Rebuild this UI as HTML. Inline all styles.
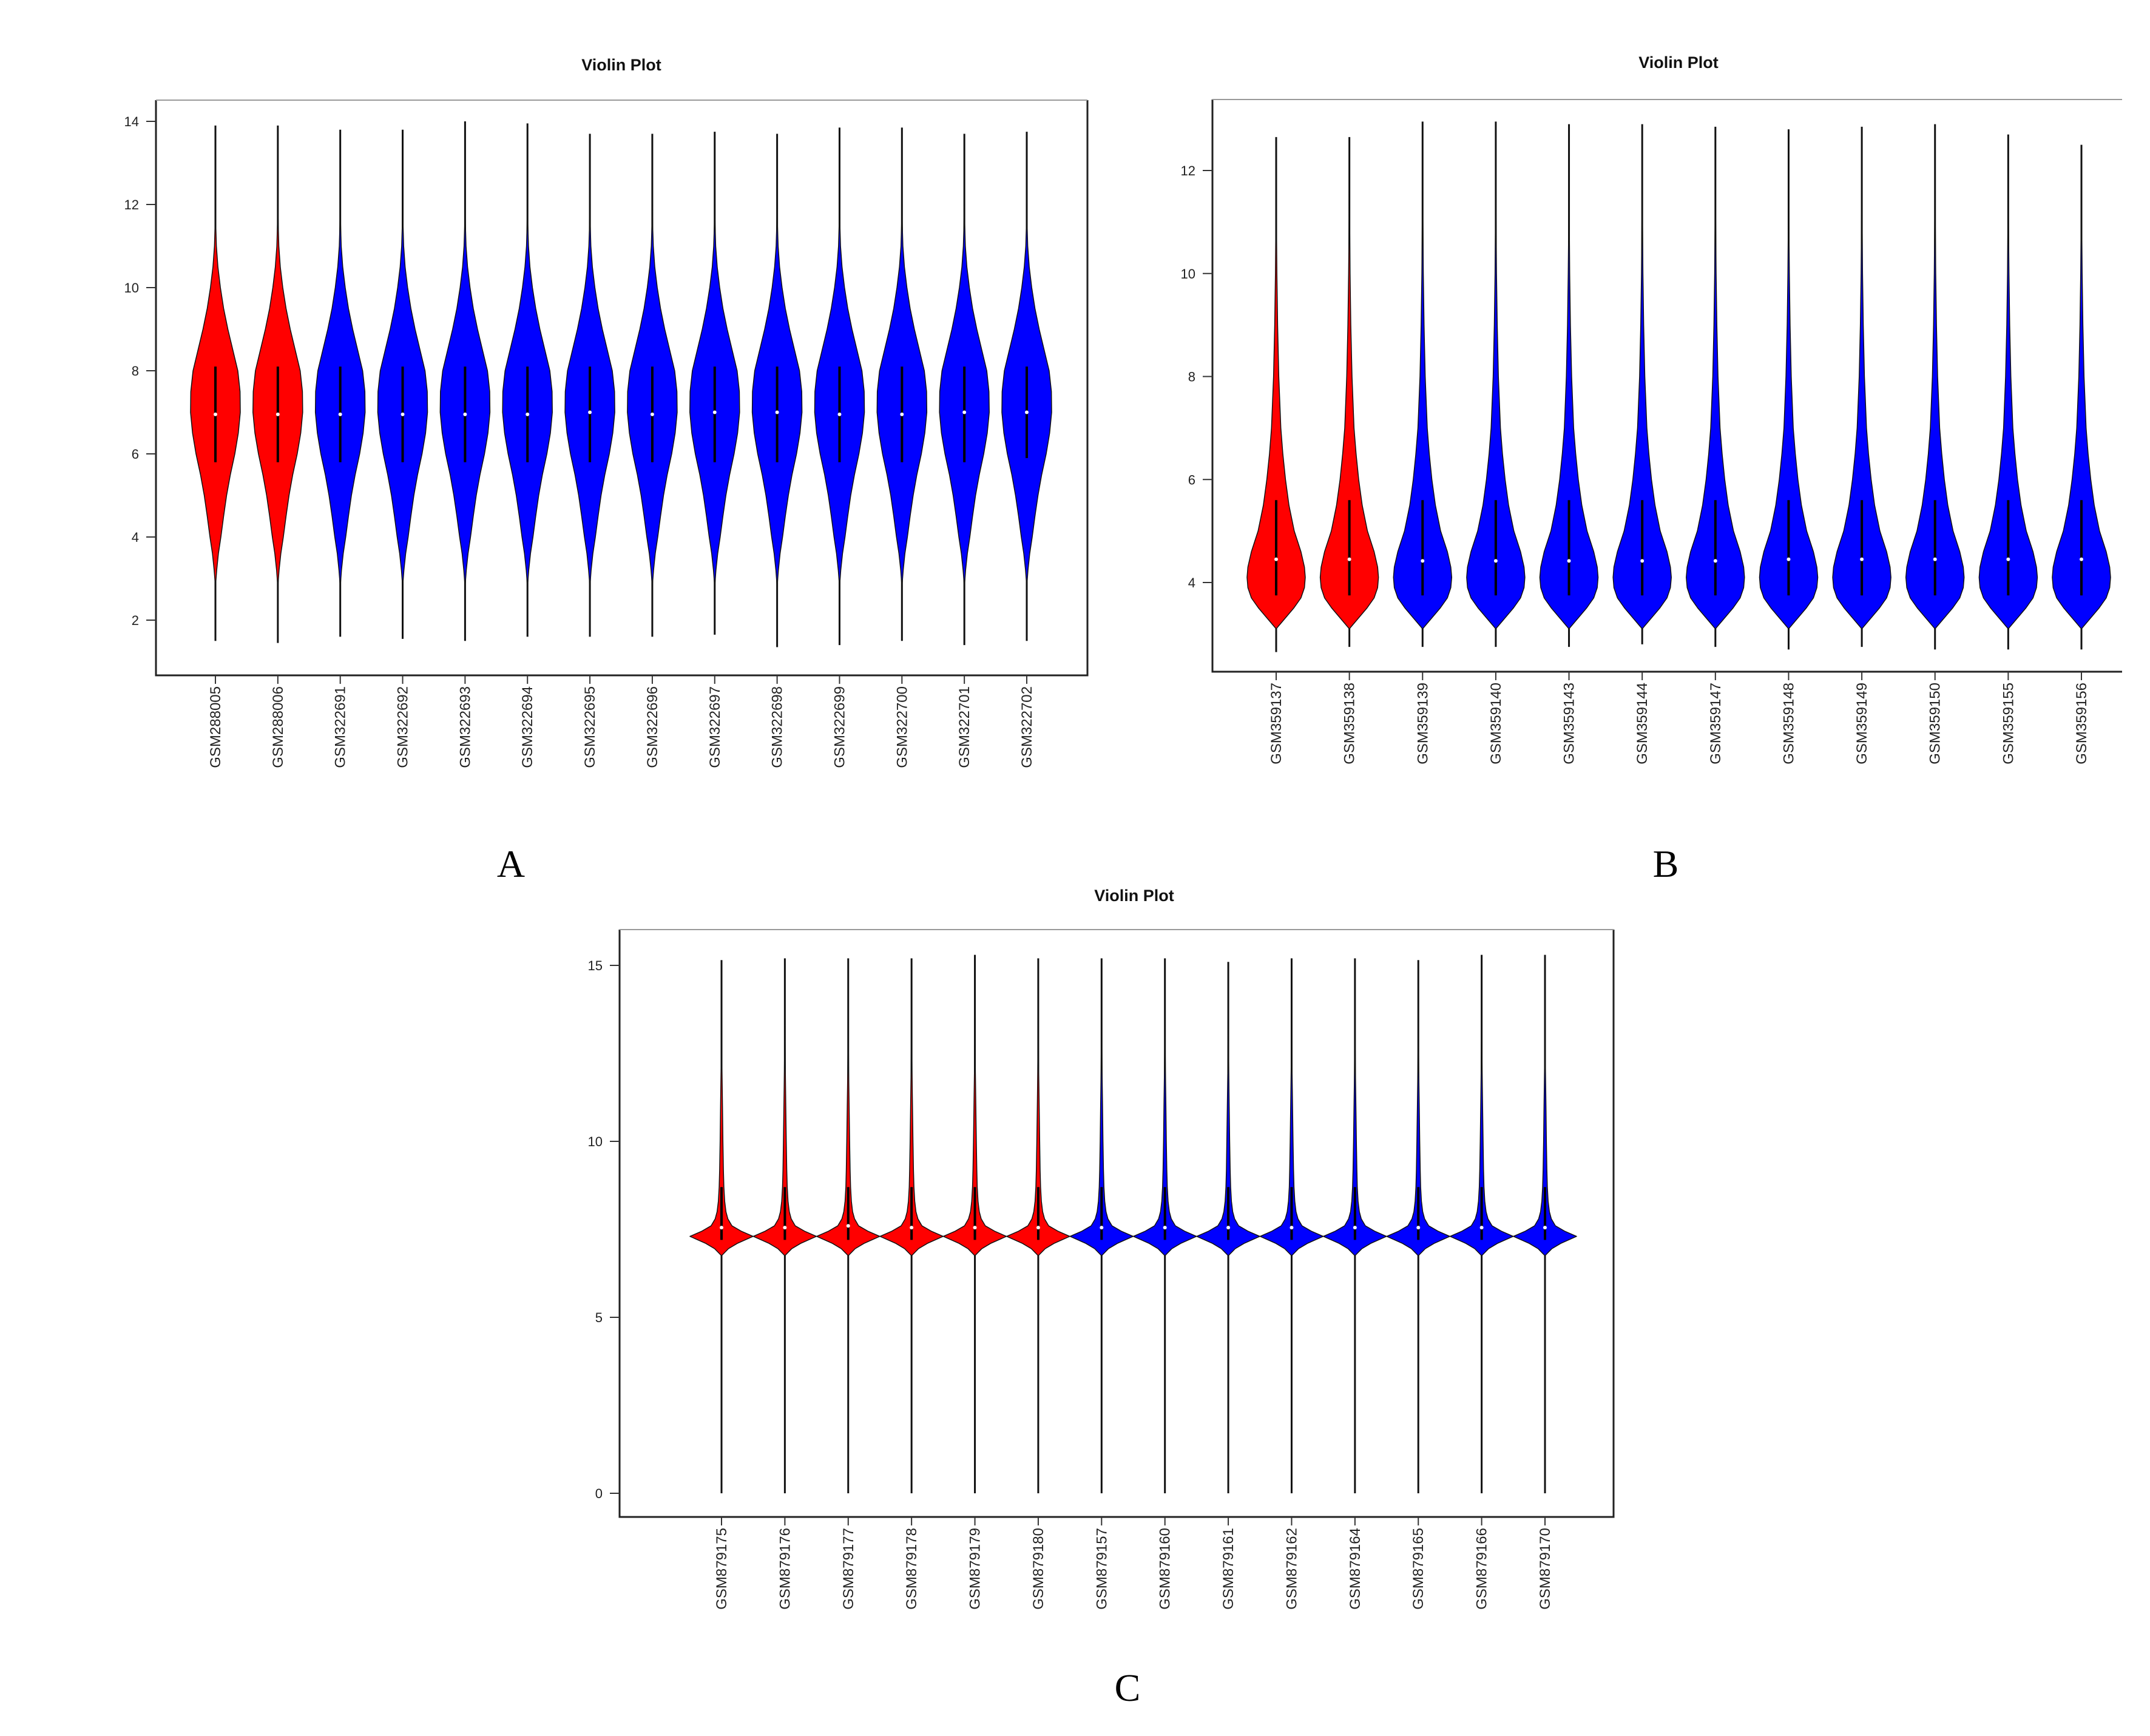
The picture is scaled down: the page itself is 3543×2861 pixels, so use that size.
<!DOCTYPE html>
<html><head><meta charset="utf-8">
<style>
html,body{margin:0;padding:0;background:#fff;}
svg{display:block;}
text{font-family:"Liberation Sans",sans-serif;}
</style></head>
<body>
<svg id="fig" width="3543" height="2861" viewBox="0 0 3543 2861" xmlns="http://www.w3.org/2000/svg">
<rect width="3543" height="2861" fill="#fff"/>
<g id="panelA"></g>
<g id="panelB"></g>
<g id="panelC"></g>
<text x="842" y="1445" text-anchor="middle" style="font-family:'Liberation Serif',serif;font-size:64px">A</text>
<text x="2745" y="1445" text-anchor="middle" style="font-family:'Liberation Serif',serif;font-size:64px">B</text>
<text x="1858" y="2803" text-anchor="middle" style="font-family:'Liberation Serif',serif;font-size:64px">C</text>
</svg>
<script>
// ---------- Panel A data ----------
const catsA = ["GSM288005","GSM288006","GSM322691","GSM322692","GSM322693","GSM322694","GSM322695","GSM322696","GSM322697","GSM322698","GSM322699","GSM322700","GSM322701","GSM322702"];
const groupA = ["ctrl","ctrl","case","case","case","case","case","case","case","case","case","case","case","case"];
const minA = [1.5,1.45,1.6,1.55,1.5,1.6,1.6,1.6,1.65,1.35,1.4,1.5,1.4,1.5];
const maxA = [13.9,13.9,13.8,13.8,14.0,13.95,13.7,13.7,13.75,13.7,13.85,13.85,13.7,13.75];
const medA = [6.95,6.95,6.95,6.95,6.95,6.95,7.0,6.95,7.0,7.0,6.95,6.95,7.0,7.0];
const q1A = [5.8,5.8,5.8,5.8,5.8,5.8,5.8,5.8,5.8,5.8,5.8,5.8,5.8,5.9];
const q3A = [8.1,8.1,8.1,8.1,8.1,8.1,8.1,8.1,8.1,8.1,8.1,8.1,8.1,8.1];
const densYA = [2.8,3.2,3.6,4.0,4.5,5.0,5.5,6.0,6.5,7.0,7.5,8.0,8.5,9.0,9.5,10.0,10.5,11.0,11.5,12.0];
const densWA = [0,0.05,0.12,0.22,0.33,0.45,0.6,0.78,0.92,1.0,0.99,0.9,0.7,0.5,0.33,0.2,0.1,0.04,0.015,0];
const ticksA = [2,4,6,8,10,12,14];

// ---------- Panel B data ----------
const catsB = ["GSM359137","GSM359138","GSM359139","GSM359140","GSM359143","GSM359144","GSM359147","GSM359148","GSM359149","GSM359150","GSM359155","GSM359156"];
const groupB = ["ctrl","ctrl","case","case","case","case","case","case","case","case","case","case"];
const minB = [2.65,2.75,2.75,2.75,2.75,2.8,2.75,2.7,2.75,2.7,2.7,2.7];
const maxB = [12.65,12.65,12.95,12.95,12.9,12.9,12.85,12.8,12.85,12.9,12.7,12.5];
const medB = [4.45,4.45,4.42,4.42,4.42,4.42,4.42,4.45,4.45,4.45,4.45,4.45];
const q1B = [3.75,3.75,3.75,3.75,3.75,3.75,3.75,3.75,3.75,3.75,3.75,3.75];
const q3B = [5.6,5.6,5.6,5.6,5.6,5.6,5.6,5.6,5.6,5.6,5.6,5.6];
const densYB = [3.1,3.3,3.5,3.7,3.9,4.1,4.3,4.6,5.0,5.5,6.0,6.5,7.0,8.0,9.0,10.0,11.0,11.6];
const densWB = [0,0.3,0.6,0.85,0.97,1.0,0.97,0.85,0.62,0.44,0.32,0.23,0.16,0.09,0.05,0.025,0.01,0];
const ticksB = [4,6,8,10,12];

// ---------- Panel C data ----------
const catsC = ["GSM879175","GSM879176","GSM879177","GSM879178","GSM879179","GSM879180","GSM879157","GSM879160","GSM879161","GSM879162","GSM879164","GSM879165","GSM879166","GSM879170"];
const groupC = ["ctrl","ctrl","ctrl","ctrl","ctrl","ctrl","case","case","case","case","case","case","case","case"];
const minC = [0,0,0,0,0,0,0,0,0,0,0,0,0,0];
const maxC = [15.15,15.2,15.2,15.2,15.3,15.2,15.2,15.2,15.1,15.2,15.2,15.15,15.3,15.3];
const medC = [7.55,7.55,7.6,7.55,7.55,7.55,7.55,7.55,7.55,7.55,7.55,7.55,7.55,7.55];
const q1C = [7.2,7.2,7.2,7.2,7.2,7.2,7.2,7.2,7.2,7.2,7.2,7.2,7.2,7.2];
const q3C = [8.7,8.7,8.7,8.7,8.7,8.7,8.7,8.7,8.7,8.7,8.7,8.7,8.7,8.7];
const densYC = [6.75,6.95,7.1,7.3,7.45,7.6,7.8,8.0,8.3,8.7,9.2,10,11,12,13.5];
const densWC = [0,0.22,0.5,1.0,0.62,0.33,0.2,0.14,0.1,0.075,0.06,0.045,0.03,0.015,0];
const ticksC = [0,5,10,15];

const NS = "http://www.w3.org/2000/svg";
function mk(parent, tag, attrs){
  const e = document.createElementNS(NS, tag);
  for (const k in attrs) e.setAttribute(k, attrs[k]);
  parent.appendChild(e);
  return e;
}

function drawPanel(cfg){
  const g = document.getElementById(cfg.id);
  const yScale = v => cfg.y0px + (v - cfg.y0v) * (cfg.y1px - cfg.y0px) / (cfg.y1v - cfg.y0v);
  const n = cfg.cats.length;
  const xScale = i => cfg.xFirst + i * (cfg.xLast - cfg.xFirst) / (n - 1);
  const t = mk(g, "text", {x: cfg.titleX, y: cfg.titleY, "text-anchor":"middle", "font-size":27, "font-weight":"bold", fill:"#111"});
  t.textContent = "Violin Plot";
  
  
  const fr = mk(g, "path", {d: cfg.frame, fill:"none", stroke:"#222", "stroke-width":3});
  
  
  const top = mk(g, "line", {x1: cfg.left, x2: cfg.right, y1: cfg.top, y2: cfg.top, stroke:"#999", "stroke-width":2});
  
  
  cfg.ticks.forEach(v => {
    const y = yScale(v);
    const tk = mk(g, "line", {x1: cfg.left - 16, x2: cfg.left, y1: y, y2: y, stroke:"#333", "stroke-width":2});
    
    
    const tl = mk(g, "text", {x: cfg.left - 28, y: y + 8, "text-anchor":"end", "font-size":22, fill:"#222"});
    tl.textContent = String(v);
    
    
  });
  for (let i = 0; i < n; i++){
    const cx = xScale(i);
    const col = cfg.group[i] === "ctrl" ? "#ff0000" : "#0000ff";
    const vg = mk(g, "g", {});
    
    
    const wl = mk(vg, "line", {x1: cx, x2: cx, y1: yScale(cfg.min[i]), y2: yScale(cfg.max[i]), stroke:"#111", "stroke-width":3});
    
    
    let right = [], left = [];
    for (let k = 0; k < cfg.dY.length; k++){
      const y = yScale(cfg.dY[k]);
      const w = cfg.dW[k] * cfg.halfW;
      right.push((cx + w).toFixed(1) + "," + y.toFixed(1));
      left.unshift((cx - w).toFixed(1) + "," + y.toFixed(1));
    }
    const body = mk(vg, "polygon", {points: right.concat(left).join(" "), fill: col, stroke:"#111", "stroke-width":1.5, "stroke-linejoin":"round"});
    
    
    const bx = mk(vg, "line", {x1: cx, x2: cx, y1: yScale(cfg.q1[i]), y2: yScale(cfg.q3[i]), stroke:"#000", "stroke-width":4});
    
    
    const md = mk(vg, "circle", {cx: cx, cy: yScale(cfg.med[i]), r: 3, fill:"#fff"});
    
    
    const xt = mk(g, "line", {x1: cx, x2: cx, y1: cfg.bottom, y2: cfg.bottom + 14, stroke:"#333", "stroke-width":2});
    
    
    const lx = cx + 8, ly = cfg.bottom + 18;
    const xl = mk(g, "text", {x: lx, y: ly, "text-anchor":"end", "font-size":24, fill:"#222", transform:"rotate(-90 " + lx + " " + ly + ")"});
    xl.textContent = cfg.cats[i];
    
    
  }
}

drawPanel({id:"panelA", cats:catsA, group:groupA, min:minA, max:maxA, med:medA, q1:q1A, q3:q3A, dY:densYA, dW:densWA, ticks:ticksA,
  y0v:14, y0px:200, y1v:2, y1px:1022, xFirst:355, xLast:1692, halfW:41,
  left:257, right:1792, top:165, bottom:1113, titleX:1024, titleY:116,
  frame:"M257,165 L257,1113 L1792,1113 L1792,165"});
drawPanel({id:"panelB", cats:catsB, group:groupB, min:minB, max:maxB, med:medB, q1:q1B, q3:q3B, dY:densYB, dW:densWB, ticks:ticksB,
  y0v:12, y0px:281, y1v:4, y1px:960, xFirst:2103, xLast:3430, halfW:48,
  left:1998, right:3497, top:164, bottom:1107, titleX:2766, titleY:112,
  frame:"M1998,164 L1998,1107 L3497,1107"});
drawPanel({id:"panelC", cats:catsC, group:groupC, min:minC, max:maxC, med:medC, q1:q1C, q3:q3C, dY:densYC, dW:densWC, ticks:ticksC,
  y0v:15, y0px:1591, y1v:0, y1px:2461, xFirst:1189, xLast:2546, halfW:52,
  left:1021, right:2659, top:1532, bottom:2500, titleX:1869, titleY:1485,
  frame:"M1021,1532 L1021,2500 L2659,2500 L2659,1532"});
</script>
</body></html>
